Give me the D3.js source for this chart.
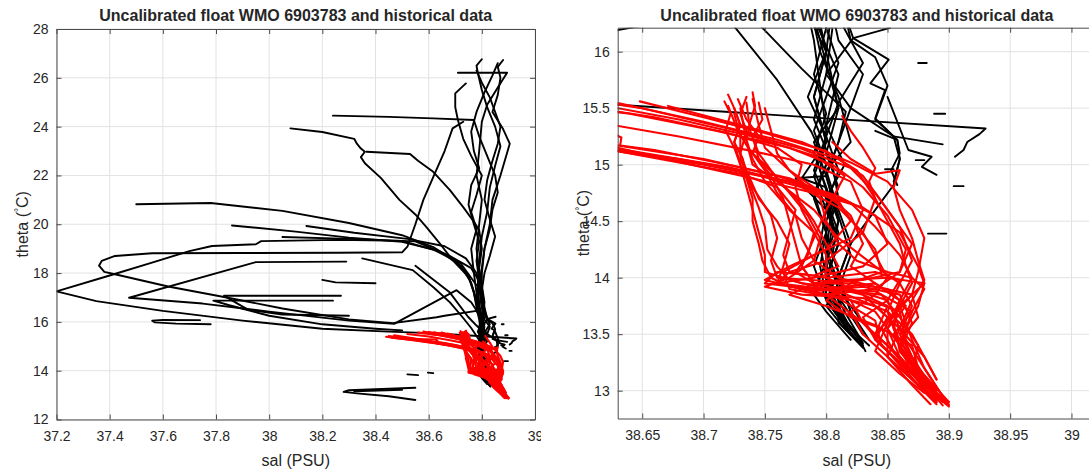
<!DOCTYPE html>
<meta charset="utf-8">
<style>
  body { margin: 0; background: #fff; }
  text { font-family: "Liberation Sans", Arial, sans-serif; fill: #262626; }
</style>
<script src="https://d3js.org/d3.v7.min.js"></script>
<body>
<div id="chart"></div>
<script>
// historical profiles (black), [sal, theta]
var hist01 = [[37.50,20.82],[37.78,20.87],[38.05,20.55],[38.3,20.05],[38.5,19.55],[38.62,19.05],[38.70,18.5],[38.75,17.9],[38.77,17.2],[38.78,16.6],[38.79,16.1],[38.795,15.7],[38.80,15.3],[38.795,14.95],[38.805,14.6],[38.80,14.25],[38.81,13.95],[38.80,13.75],[38.815,13.55],[38.83,13.38]];
var hist02 = [[37.86,19.95],[38.1,19.7],[38.3,19.45],[38.5,19.28],[38.64,18.9],[38.72,18.3],[38.76,17.6],[38.78,16.9],[38.79,16.3],[38.80,15.9],[38.81,15.5],[38.79,15.2],[38.80,14.9],[38.81,14.5],[38.805,14.2],[38.815,13.9],[38.81,13.7],[38.825,13.5],[38.832,13.35]];
var hist03 = [[38.14,19.93],[38.32,19.65],[38.52,19.4],[38.66,19.1],[38.74,18.6],[38.78,18.0],[38.79,17.4],[38.80,16.8],[38.805,16.2],[38.80,15.8],[38.79,15.4],[38.805,15.0],[38.81,14.7],[38.80,14.4],[38.795,14.1],[38.80,13.85],[38.815,13.6],[38.835,13.4]];
var hist04 = [[38.05,19.48],[38.3,19.4],[38.55,19.3],[38.68,18.7],[38.76,18.2],[38.80,17.5],[38.81,16.8],[38.80,16.0],[38.785,15.6],[38.80,15.25],[38.79,14.95],[38.80,14.7],[38.81,14.3],[38.80,14.0],[38.805,13.8],[38.82,13.55]];
var hist05 = [[38.78,17.5],[38.72,18.4],[38.62,18.95],[38.50,19.32],[38.26,19.36],[37.97,19.31],[37.95,19.18],[37.785,19.11],[37.70,18.9],[37.55,18.4],[37.40,17.9],[37.20,17.25],[37.35,16.85],[37.6,16.45],[37.9,16.05],[38.2,15.72],[38.45,15.6],[38.63,15.53],[38.80,15.41],[38.93,15.32],[38.925,15.27],[38.915,15.2],[38.912,15.13],[38.905,15.07]];
var hist06 = [[38.73,24.2],[38.69,23.93],[38.66,23.0],[38.62,22.0],[38.58,21.0],[38.55,20.0],[38.52,19.08],[38.50,18.85],[38.26,18.83],[37.9,18.82],[37.56,18.81],[37.42,18.7],[37.37,18.5],[37.36,18.3],[37.38,18.05],[37.42,17.95],[37.62,17.45],[37.84,17.0],[38.05,16.55],[38.3,16.1],[38.466,15.95],[38.63,16.19],[38.66,16.25],[38.78,16.45],[38.80,16.0],[38.79,15.6],[38.80,15.2],[38.79,14.9],[38.80,14.6],[38.795,14.3],[38.80,14.0],[38.81,13.7],[38.83,13.4]];
var hist07 = [[38.29,18.47],[37.95,18.45],[37.473,16.99],[37.75,16.75],[38.0,16.42],[38.3,16.05],[38.47,15.92],[38.705,17.3],[38.76,16.8],[38.79,16.3],[38.81,15.8],[38.80,15.35],[38.815,15.0],[38.80,14.7],[38.81,14.4],[38.80,14.15],[38.79,13.85],[38.80,13.7],[38.82,13.45]];
var hist08 = [[38.27,17.07],[37.83,17.07],[37.86,16.88],[37.92,16.5],[38.05,16.3],[38.3,16.25]];
var hist09 = [[38.24,16.87],[37.79,16.87],[37.85,16.68],[38.0,16.25],[38.2,15.9],[38.4,15.72],[38.5,15.65]];
var hist10 = [[37.74,16.07],[37.6,16.08],[37.56,16.05],[37.57,15.98],[37.65,15.93],[37.78,15.9]];
var hist11 = [[38.2,17.72],[38.25,17.62],[38.40,17.58]];
var hist12 = [[38.55,13.3],[38.45,13.26],[38.3,13.2],[38.28,13.13],[38.33,13.07],[38.45,12.95],[38.55,12.8]];
var hist13 = [[38.32,13.16],[38.5,13.22]];
var hist14 = [[38.08,23.93],[38.2,23.78],[38.32,23.5],[38.33,23.3],[38.345,23.1],[38.36,22.97],[38.345,22.75],[38.36,22.5],[38.42,21.9],[38.49,21.0],[38.55,20.4],[38.59,19.9],[38.65,19.1],[38.69,18.53],[38.75,17.85],[38.77,17.2],[38.785,16.5],[38.795,16.0],[38.81,15.6],[38.82,15.2],[38.80,14.95],[38.81,14.6],[38.82,14.3],[38.81,14.0],[38.82,13.7],[38.835,13.45]];
var hist15 = [[38.366,22.97],[38.53,22.88],[38.56,22.6],[38.617,22.15],[38.68,21.4],[38.73,20.7],[38.77,20.1],[38.79,19.76],[38.80,19.0],[38.79,18.2],[38.80,17.4],[38.81,16.6],[38.82,16.1],[38.84,15.95],[38.85,15.7],[38.84,15.4],[38.855,15.25],[38.86,15.05],[38.855,14.85]];
var hist16 = [[38.24,24.45],[38.45,24.4],[38.617,24.34],[38.77,24.27],[38.79,23.6],[38.82,22.8],[38.85,22.0],[38.86,21.3],[38.84,20.6],[38.83,19.8],[38.81,19.0],[38.80,18.2],[38.79,17.4],[38.80,16.6],[38.81,16.1],[38.83,15.8],[38.82,15.5],[38.81,15.2],[38.80,14.9],[38.81,14.55],[38.82,14.2],[38.81,13.9],[38.83,13.6]];
var hist17 = [[38.80,26.76],[38.78,26.5],[38.785,26.2],[38.80,25.5],[38.82,24.8],[38.85,24.0],[38.87,23.2],[38.85,22.4],[38.83,21.5],[38.82,20.5],[38.80,19.5],[38.79,18.5],[38.785,17.5],[38.79,16.7],[38.80,16.21],[38.81,15.9],[38.80,15.6],[38.79,15.3],[38.80,15.0],[38.79,14.7],[38.80,14.4],[38.79,14.1],[38.80,13.8],[38.825,13.45]];
var hist18 = [[38.88,26.73],[38.86,26.45],[38.87,26.0],[38.86,25.3],[38.84,24.6],[38.88,23.9],[38.905,23.3],[38.87,22.0],[38.84,21.0],[38.83,20.0],[38.81,19.0],[38.80,18.0],[38.80,17.2],[38.81,16.5],[38.822,16.12],[38.851,15.93],[38.836,15.72],[38.848,15.66],[38.84,15.41],[38.855,15.25],[38.858,15.22],[38.86,15.05],[38.855,14.82],[38.84,14.6],[38.82,14.3],[38.81,14.0],[38.82,13.7],[38.83,13.5]];
var hist19 = [[38.71,26.21],[38.895,26.21],[38.86,25.6],[38.82,24.9],[38.80,24.2],[38.79,23.0],[38.78,22.0],[38.80,21.0],[38.79,20.0],[38.78,19.0],[38.79,18.0],[38.78,17.0],[38.79,16.4],[38.80,16.0],[38.79,15.6],[38.80,15.2],[38.78,14.88],[38.80,14.8],[38.81,14.5],[38.80,14.2],[38.81,13.9],[38.81,13.6],[38.83,13.4]];
var hist20 = [[38.74,25.77],[38.70,25.36],[38.70,24.8],[38.71,24.27],[38.73,23.5],[38.76,22.8],[38.80,22.0],[38.78,21.2],[38.76,20.5],[38.78,19.8],[38.76,19.0],[38.77,18.0],[38.78,17.2],[38.79,16.5],[38.80,16.0],[38.81,15.5],[38.80,15.1],[38.81,14.8],[38.80,14.5],[38.80,14.1],[38.80,13.8],[38.82,13.5]];
var hist21 = [[38.78,26.3],[38.80,25.8],[38.83,25.2],[38.85,24.6],[38.87,24.0],[38.86,23.3],[38.84,22.6],[38.82,21.8],[38.81,21.0],[38.83,20.2],[38.85,19.5],[38.83,18.7],[38.81,18.0],[38.80,17.3],[38.79,16.6],[38.80,16.21],[38.79,15.8],[38.80,15.45],[38.79,15.1],[38.80,14.8],[38.805,14.45],[38.80,14.15],[38.805,13.85],[38.82,13.55]];
var hist22 = [[38.86,26.6],[38.84,26.1],[38.81,25.4],[38.78,24.6],[38.76,23.8],[38.77,23.0],[38.79,22.3],[38.76,21.6],[38.75,20.8],[38.77,20.0],[38.79,19.3],[38.78,18.5],[38.79,17.7],[38.80,16.9],[38.81,16.3],[38.83,15.9],[38.81,15.55],[38.80,15.25],[38.81,14.95],[38.80,14.65],[38.81,14.3],[38.80,14.0],[38.815,13.7],[38.83,13.42]];
var hist23 = [[38.35,18.6],[38.54,18.12],[38.62,17.4],[38.68,16.8],[38.726,16.21],[38.76,15.75],[38.788,15.29],[38.80,15.0],[38.79,14.75],[38.80,14.4],[38.81,14.05],[38.80,13.8],[38.82,13.5]];
var hist24 = [[38.55,18.3],[38.68,17.2],[38.748,16.21],[38.78,15.85],[38.816,15.47],[38.81,15.2],[38.80,14.9],[38.775,14.88],[38.80,14.6],[38.81,14.3],[38.80,14.0],[38.815,13.75],[38.83,13.5]];
var hist25 = [[38.852,16.21],[38.822,16.12],[38.80,15.8],[38.82,15.5],[38.855,15.25],[38.895,15.18]];
var hist26 = [[38.85,15.6],[38.867,15.13],[38.886,15.07],[38.878,14.98],[38.89,14.91]];
var hist27 = [[38.84,15.3],[38.858,15.22],[38.86,15.1],[38.853,14.95],[38.858,14.82]];
// short isolated pieces
var hist28 = [[38.52,13.85],[38.56,13.82]];
var hist29 = [[38.597,13.92],[38.617,13.9]];
var hist30 = [[38.875,15.9],[38.882,15.9]];
var hist31 = [[38.888,15.45],[38.897,15.45]];
var hist32 = [[38.904,14.81],[38.912,14.81]];
var hist33 = [[38.883,14.39],[38.898,14.39]];
var hist34 = [[38.873,15.04],[38.88,15.04]];
var hist35 = [[38.848,14.96],[38.855,14.96]];

// float profiles (red), [sal, theta]
var float01 = [[38.60,15.58],[38.65,15.50],[38.72,15.32],[38.78,15.14],[38.82,14.97],[38.84,14.75],[38.86,14.45],[38.87,14.15],[38.86,13.95],[38.85,13.7],[38.86,13.4],[38.87,13.15],[38.89,12.95],[38.90,12.86]];
var float02 = [[38.62,15.57],[38.70,15.38],[38.76,15.22],[38.81,15.05],[38.83,14.9],[38.85,14.6],[38.87,14.3],[38.86,14.05],[38.84,13.9],[38.80,13.85],[38.83,13.6],[38.85,13.35],[38.87,13.1],[38.89,12.88]];
var float03 = [[38.648,15.56],[38.70,15.42],[38.75,15.28],[38.80,15.12],[38.825,14.95],[38.84,14.7],[38.83,14.4],[38.80,14.15],[38.77,14.05],[38.76,13.95],[38.80,13.9],[38.84,13.7],[38.86,13.4],[38.88,13.1],[38.89,12.92]];
var float04 = [[38.671,15.52],[38.73,15.35],[38.78,15.2],[38.82,15.02],[38.85,14.85],[38.87,14.6],[38.88,14.35],[38.875,14.05],[38.87,13.85],[38.85,13.6],[38.84,13.35],[38.86,13.15],[38.88,12.98]];
var float05 = [[38.58,15.6],[38.68,15.4],[38.74,15.25],[38.79,15.08],[38.815,14.9],[38.80,14.6],[38.79,14.35],[38.78,14.1],[38.79,13.95],[38.83,13.85],[38.85,13.65],[38.84,13.45],[38.86,13.25],[38.88,13.05],[38.9,12.9]];
var float06 = [[38.45,15.42],[38.55,15.3],[38.63,15.17],[38.70,15.05],[38.76,14.9],[38.81,14.72],[38.84,14.55],[38.85,14.3],[38.83,14.1],[38.79,14.0],[38.76,13.95],[38.80,13.85],[38.84,13.75],[38.86,13.55],[38.87,13.3],[38.88,13.1],[38.895,12.9]];
var float07 = [[38.47,15.45],[38.56,15.3],[38.63,15.14],[38.72,14.98],[38.78,14.82],[38.82,14.66],[38.84,14.45],[38.86,14.2],[38.87,14.0],[38.86,13.8],[38.85,13.55],[38.85,13.3],[38.87,13.05],[38.885,12.88]];
var float08 = [[38.44,15.39],[38.52,15.28],[38.63,15.12],[38.70,15.0],[38.77,14.85],[38.81,14.68],[38.82,14.5],[38.80,14.25],[38.77,14.1],[38.75,13.98],[38.78,13.9],[38.82,13.8],[38.83,13.6],[38.85,13.4],[38.87,13.15],[38.89,12.95]];
var float09 = [[38.50,15.35],[38.58,15.23],[38.63,15.15],[38.69,15.0],[38.74,14.88],[38.79,14.75],[38.83,14.62],[38.86,14.4],[38.875,14.1],[38.88,13.95],[38.86,13.75],[38.84,13.5],[38.86,13.3],[38.88,13.05]];
var float10 = [[38.55,15.3],[38.625,15.28],[38.633,15.24],[38.632,15.17],[38.66,15.13],[38.72,15.0],[38.77,14.88],[38.80,14.75],[38.82,14.55],[38.83,14.3],[38.82,14.1],[38.84,13.95],[38.86,13.8],[38.855,13.6],[38.86,13.35],[38.875,13.15],[38.89,12.97]];
var float11 = [[38.72,15.62],[38.725,15.5],[38.73,15.35],[38.725,15.2],[38.73,15.0],[38.735,14.8],[38.74,14.6],[38.745,14.4],[38.75,14.2],[38.75,14.05],[38.78,13.95],[38.82,13.9],[38.85,13.75],[38.84,13.5],[38.86,13.3],[38.88,13.05],[38.9,12.88]];
var float12 = [[38.735,15.6],[38.73,15.45],[38.735,15.3],[38.73,15.1],[38.735,14.95],[38.745,14.7],[38.76,14.5],[38.77,14.3],[38.765,14.1],[38.76,13.95],[38.79,13.88],[38.83,13.92],[38.86,13.85],[38.87,13.6],[38.86,13.35],[38.88,13.1]];
var float13 = [[38.74,15.64],[38.742,15.52],[38.738,15.38],[38.735,15.22],[38.74,15.05],[38.75,14.85],[38.77,14.6],[38.79,14.4],[38.80,14.2],[38.80,14.0],[38.82,13.9],[38.85,13.8],[38.86,13.55],[38.85,13.3],[38.87,13.1],[38.89,12.92]];
var float14 = [[38.717,15.56],[38.722,15.45],[38.718,15.3],[38.725,15.15],[38.73,15.0],[38.738,14.82],[38.745,14.62],[38.75,14.45],[38.752,14.25],[38.76,14.1],[38.77,13.98],[38.80,13.9],[38.84,13.95],[38.86,13.8],[38.855,13.55],[38.87,13.25],[38.89,13.0]];
var float15 = [[38.728,15.58],[38.735,15.4],[38.745,15.25],[38.74,15.1],[38.75,14.95],[38.76,14.75],[38.775,14.55],[38.78,14.35],[38.79,14.15],[38.81,14.0],[38.84,13.92],[38.87,13.85],[38.875,13.65],[38.86,13.45],[38.875,13.2],[38.9,12.9]];
var float16 = [[38.725,15.5],[38.73,15.35],[38.725,15.2],[38.732,15.05],[38.735,14.88],[38.74,14.7],[38.74,14.5],[38.745,14.3],[38.748,14.15],[38.755,14.0],[38.77,13.92],[38.81,13.88],[38.85,13.7],[38.87,13.5],[38.88,13.3],[38.89,13.1]];
var float17 = [[38.73,15.5],[38.735,15.2],[38.74,15.0],[38.76,14.85],[38.79,14.6],[38.81,14.35],[38.84,14.1],[38.86,13.95],[38.87,13.75],[38.86,13.5],[38.87,13.3],[38.885,13.05]];
var float18 = [[38.813,15.43],[38.82,15.3],[38.83,15.15],[38.84,14.97],[38.835,14.85],[38.84,14.7],[38.85,14.5],[38.86,14.3],[38.865,14.1],[38.87,13.95],[38.86,13.75],[38.87,13.45],[38.88,13.2],[38.895,12.95]];
var float19 = [[38.805,15.2],[38.82,15.05],[38.84,14.92],[38.86,14.95],[38.855,14.8],[38.86,14.6],[38.87,14.35],[38.875,14.15],[38.88,13.98],[38.87,13.8],[38.86,13.55],[38.88,13.3],[38.89,13.1]];
var float20 = [[38.52,15.5],[38.6,15.4],[38.68,15.25],[38.74,15.12],[38.79,15.0],[38.82,14.85],[38.83,14.6],[38.82,14.35],[38.79,14.2],[38.765,14.05],[38.77,13.9],[38.81,13.82],[38.84,13.62],[38.845,13.4],[38.865,13.2],[38.885,13.0],[38.895,12.87]];
var float21 = [[38.56,15.56],[38.64,15.45],[38.71,15.3],[38.77,15.15],[38.805,15.0],[38.83,14.8],[38.85,14.55],[38.865,14.25],[38.86,14.05],[38.83,13.98],[38.79,13.95],[38.77,13.85],[38.80,13.75],[38.84,13.58],[38.87,13.4],[38.875,13.2],[38.89,12.98]];
var float22 = [[38.745,15.55],[38.748,15.4],[38.74,15.25],[38.745,15.05],[38.755,14.9],[38.765,14.7],[38.77,14.5],[38.775,14.3],[38.78,14.1],[38.79,13.95],[38.82,13.88],[38.845,13.85],[38.86,13.65],[38.875,13.4],[38.87,13.2],[38.885,13.0]];
var float23 = [[38.725,15.45],[38.73,15.25],[38.73,15.05],[38.74,14.8],[38.755,14.55],[38.76,14.35],[38.755,14.15],[38.76,14.0],[38.80,13.97],[38.85,14.0],[38.88,13.95],[38.875,13.75],[38.865,13.55],[38.86,13.35],[38.875,13.15],[38.89,12.92]];
var float24 = [[38.46,15.35],[38.55,15.25],[38.62,15.14],[38.68,15.05],[38.73,14.95],[38.78,14.8],[38.81,14.62],[38.83,14.4],[38.84,14.2],[38.85,14.0],[38.84,13.85],[38.82,13.7],[38.83,13.5],[38.85,13.3],[38.87,13.1],[38.89,12.9]];
var float25 = [[38.735,15.55],[38.738,15.3],[38.745,15.1],[38.755,14.95],[38.77,14.75],[38.785,14.55],[38.795,14.35],[38.79,14.15],[38.77,14.0],[38.75,13.92],[38.78,13.85],[38.83,13.82],[38.86,13.7],[38.865,13.45],[38.88,13.2],[38.895,12.95]];
var float26 = [[38.72,15.52],[38.728,15.3],[38.738,15.12],[38.75,15.0],[38.765,14.82],[38.78,14.65],[38.79,14.5],[38.80,14.3],[38.81,14.1],[38.79,14.02],[38.76,14.05],[38.75,13.95],[38.79,13.9],[38.84,13.88],[38.87,13.7],[38.86,13.4],[38.87,13.2],[38.89,12.95]];
var float27 = [[38.74,15.58],[38.745,15.35],[38.75,15.15],[38.765,15.0],[38.78,14.85],[38.795,14.7],[38.80,14.5],[38.81,14.3],[38.825,14.15],[38.85,14.05],[38.87,14.0],[38.88,13.9],[38.87,13.7],[38.855,13.5],[38.865,13.3],[38.88,13.1],[38.9,12.87]];
var float28 = [[38.60,15.52],[38.66,15.42],[38.72,15.28],[38.76,15.15],[38.78,15.0],[38.775,14.8],[38.78,14.6],[38.79,14.4],[38.785,14.2],[38.775,14.05],[38.79,13.95],[38.82,13.95],[38.85,13.9],[38.865,13.75],[38.85,13.55],[38.86,13.3],[38.875,13.1],[38.89,12.9]];
var float29 = [[38.63,15.12],[38.68,15.02],[38.73,14.92],[38.76,14.8],[38.775,14.6],[38.77,14.4],[38.765,14.2],[38.77,14.05],[38.80,14.0],[38.84,14.05],[38.86,13.98],[38.85,13.8],[38.83,13.65],[38.84,13.45],[38.86,13.25],[38.875,13.05]];
var float30 = [[38.75,15.5],[38.755,15.3],[38.76,15.1],[38.77,14.95],[38.79,14.8],[38.81,14.65],[38.825,14.45],[38.84,14.25],[38.845,14.05],[38.82,13.95],[38.80,13.8],[38.82,13.65],[38.845,13.55],[38.855,13.35],[38.87,13.15],[38.885,12.95]];

var histProfiles = [hist01, hist02, hist03, hist04, hist05, hist06, hist07, hist08, hist09, hist10,
  hist11, hist12, hist13, hist14, hist15, hist16, hist17, hist18, hist19, hist20, hist21, hist22,
  hist23, hist24, hist25, hist26, hist27, hist28, hist29, hist30, hist31, hist32, hist33, hist34, hist35];
var floatProfiles = [float01, float02, float03, float04, float05, float06, float07, float08, float09, float10,
  float11, float12, float13, float14, float15, float16, float17, float18, float19, float20, float21, float22,
  float23, float24, float25, float26, float27, float28, float29, float30];

// axis limits and ticks
var leftSalLimits = [37.2, 39];
var leftThetaLimits = [12, 28];
var leftSalTicks = [37.2, 37.4, 37.6, 37.8, 38, 38.2, 38.4, 38.6, 38.8, 39];
var leftThetaTicks = [12, 14, 16, 18, 20, 22, 24, 26, 28];
var rightSalLimits = [38.63, 39.02];
var rightThetaLimits = [12.754, 16.212];
var rightSalTicks = [38.65, 38.7, 38.75, 38.8, 38.85, 38.9, 38.95, 39];
var rightThetaTicks = [13, 13.5, 14, 14.5, 15, 15.5, 16];

var titleText = "Uncalibrated float WMO 6903783 and historical data";

var svg = d3.select("#chart").append("svg")
  .attr("width", 1089)
  .attr("height", 472);

function drawPanel(root, id, salLim, thetaLim, salTicks, thetaTicks, left, right, top, bottom) {
  var x = d3.scaleLinear().domain(salLim).range([left, right]);
  var y = d3.scaleLinear().domain(thetaLim).range([bottom, top]);
  var w = right - left, h = bottom - top;

  root.append("clipPath").attr("id", id)
    .append("rect").attr("x", left).attr("y", top).attr("width", w).attr("height", h);

  // grid
  var grid = root.append("g").attr("stroke", "#e2e2e2").attr("stroke-width", 1);
  grid.selectAll(".gx").data(salTicks).enter().append("line")
    .attr("x1", d => x(d)).attr("x2", d => x(d)).attr("y1", top).attr("y2", bottom);
  grid.selectAll(".gy").data(thetaTicks).enter().append("line")
    .attr("y1", d => y(d)).attr("y2", d => y(d)).attr("x1", left).attr("x2", right);

  var line = d3.line().x(d => x(d[0])).y(d => y(d[1]));
  var data = root.append("g").attr("clip-path", "url(#" + id + ")")
    .attr("fill", "none")
    .attr("stroke-linejoin", "round").attr("stroke-linecap", "round");
  data.selectAll(".hist").data(histProfiles).enter().append("path")
    .attr("stroke", "#000").attr("stroke-width", 1.9).attr("d", line);
  data.selectAll(".float").data(floatProfiles).enter().append("path")
    .attr("stroke", "#f00").attr("stroke-width", 2.1).attr("d", line);

  // box and inward ticks
  root.append("g").attr("transform", "translate(0," + bottom + ")")
    .call(d3.axisBottom(x).tickValues(salTicks).tickSize(-5).tickSizeOuter(0).tickPadding(12).tickFormat(d => String(d)));
  root.append("g").attr("transform", "translate(0," + top + ")")
    .call(d3.axisTop(x).tickValues(salTicks).tickSize(-5).tickSizeOuter(0).tickFormat(""));
  root.append("g").attr("transform", "translate(" + left + ",0)")
    .call(d3.axisLeft(y).tickValues(thetaTicks).tickSize(-5).tickSizeOuter(0).tickPadding(8).tickFormat(d => String(d)));
  root.append("g").attr("transform", "translate(" + right + ",0)")
    .call(d3.axisRight(y).tickValues(thetaTicks).tickSize(-5).tickSizeOuter(0).tickFormat(""));
  root.selectAll(".domain, .tick line").attr("stroke", "#4a4a4a");
  root.selectAll(".tick text").style("font-size", "14px").attr("fill", "#262626")
    .style("font-family", "'Liberation Sans', Arial, sans-serif");

  var cx = (left + right) / 2;
  root.append("text").attr("x", cx).attr("y", 21).attr("text-anchor", "middle")
    .style("font-size", "16px").style("font-weight", "bold").attr("fill", "#000").text(titleText);
  root.append("text").attr("x", cx).attr("y", 466).attr("text-anchor", "middle")
    .style("font-size", "16px").text("sal (PSU)");
  var yl = root.append("text")
    .attr("transform", "translate(" + (left - 29) + "," + ((top + bottom) / 2) + ") rotate(-90)")
    .attr("text-anchor", "middle").style("font-size", "16px");
  yl.append("tspan").text("theta (");
  yl.append("tspan").attr("dy", -6).style("font-size", "10px").text("\u00b0");
  yl.append("tspan").attr("dy", 6).text("C)");
}

// left panel is clipped on its right side like the original image
var leftRoot = svg.append("svg").attr("width", 541).attr("height", 472);
drawPanel(leftRoot, "clipL", leftSalLimits, leftThetaLimits, leftSalTicks, leftThetaTicks, 56.5, 535, 29, 419.5);
drawPanel(svg.append("g"), "clipR", rightSalLimits, rightThetaLimits, rightSalTicks, rightThetaTicks, 617.7, 1096, 27.7, 418.5);
</script>
</body>
</html>
